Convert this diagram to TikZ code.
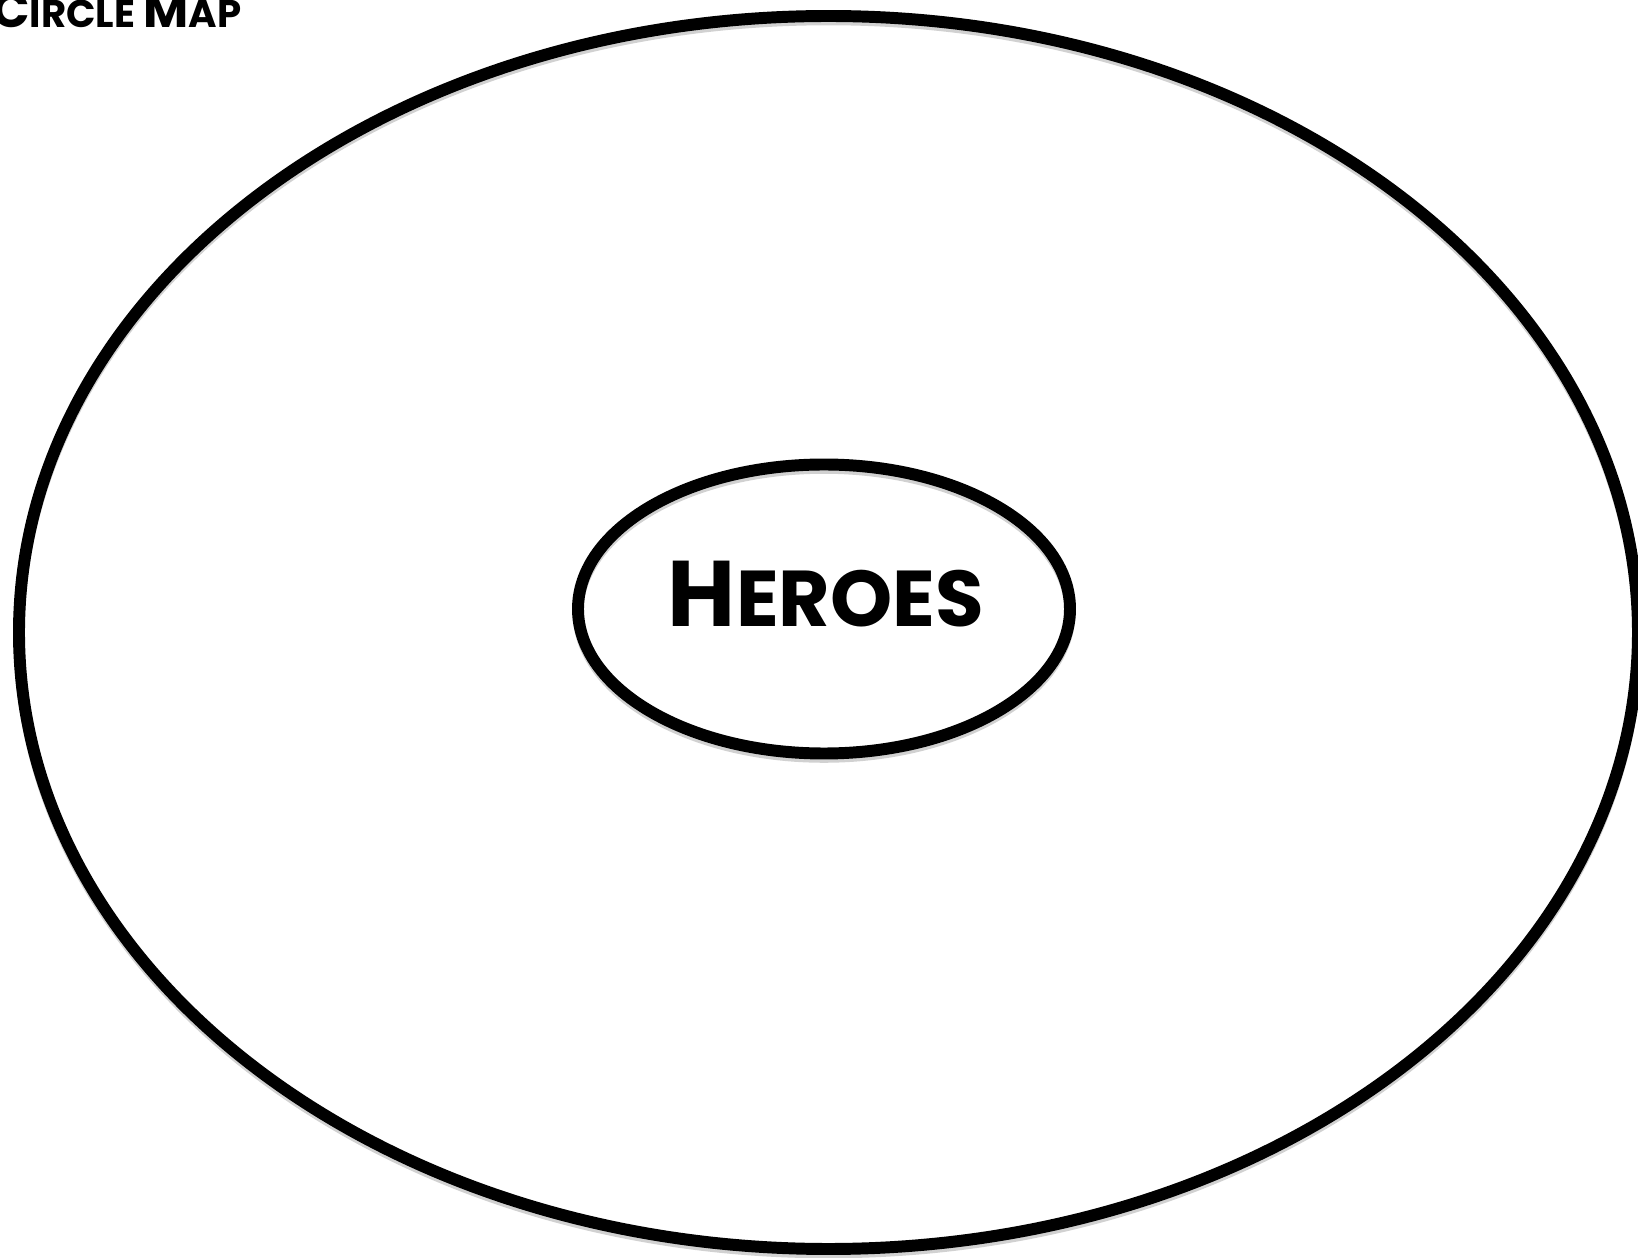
\documentclass[tikz,border=0pt]{standalone}
\usepackage{fontspec}
\setmainfont{Poppins}
\usetikzlibrary{calc}
\definecolor{MapClr}{rgb}{0,0,0}
\definecolor{ShadeClr}{rgb}{0.82,0.82,0.82}

\begin{document}
\begin{tikzpicture}[x=0.01cm,y=-0.01cm]
\tikzset{ring/.style={line width=3.4pt,color=MapClr},
  ringshade/.style={line width=3pt,color=ShadeClr}}
\useasboundingbox (0,0) rectangle (1638,1258);

\coordinate (O) at (828.5,632.5);
\coordinate (F) at (824,609);

% soft shadow under the rings
\draw[ringshade] ($(O)+(0,4)$) ellipse [x radius=809.5, y radius=616.5];
\draw[ringshade] ($(F)+(0,4)$) ellipse [x radius=246, y radius=144.5];

\draw[ring] (O) ellipse [x radius=809.5, y radius=616.5];
\draw[ring] (F) ellipse [x radius=246, y radius=144.5];

\node[anchor=base] (heroes) at (826,627)
  {\bfseries\fontsize{26.5}{26.5}\selectfont H\fontsize{22.5}{22.5}\selectfont EROES};
\node[anchor=base east, inner sep=0pt] (title) at (242,28)
  {\bfseries\fontsize{14}{14}\selectfont C\fontsize{11}{11}\selectfont IRCLE
   \fontsize{14}{14}\selectfont M\fontsize{11}{11}\selectfont AP};

\end{tikzpicture}
\end{document}
